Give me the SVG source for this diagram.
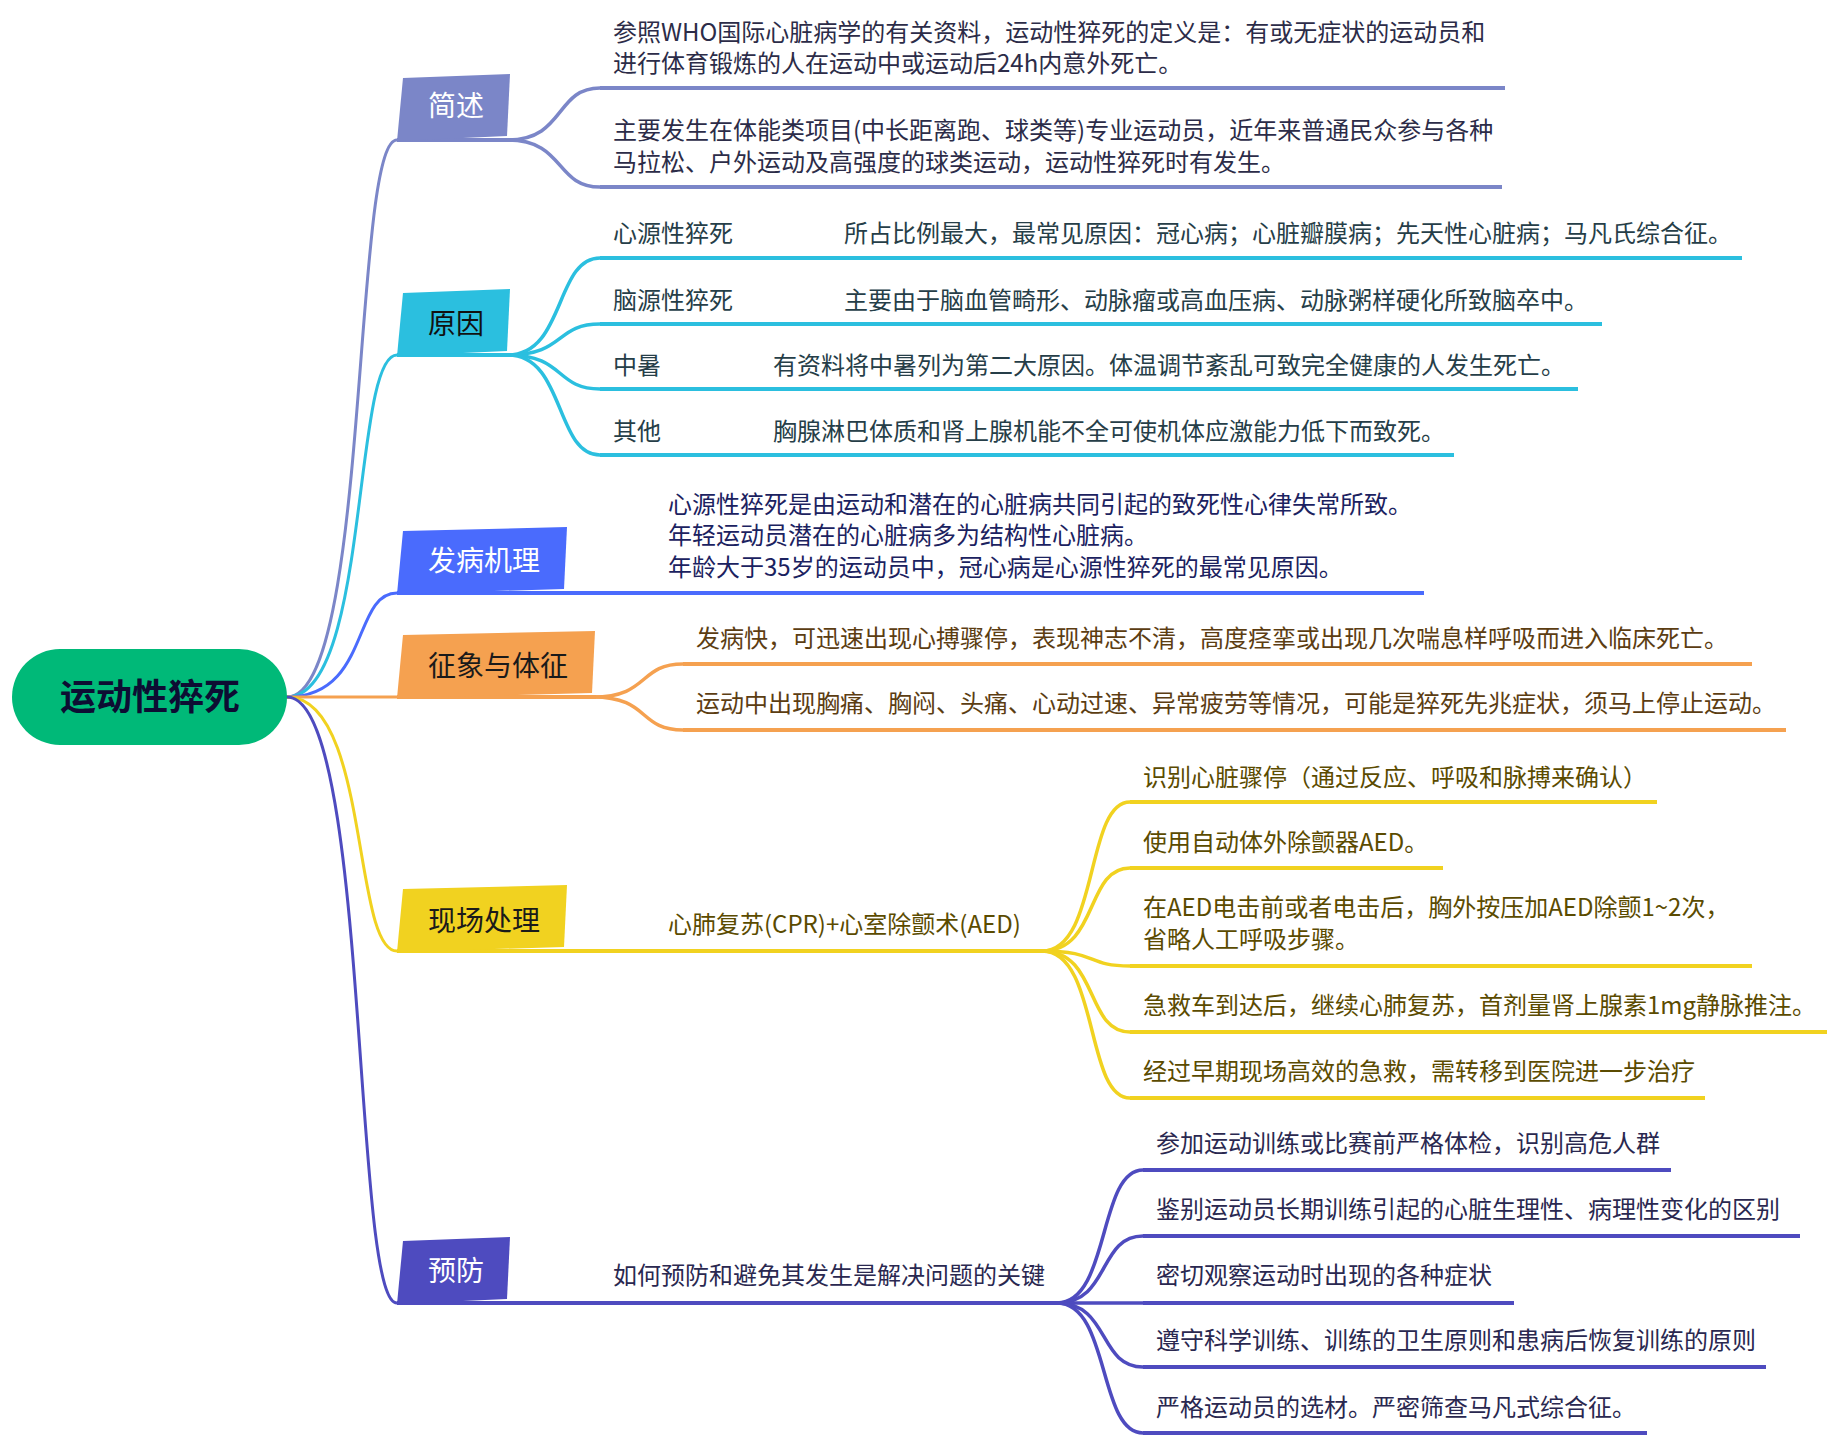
<svg xmlns="http://www.w3.org/2000/svg" width="1848" height="1446" viewBox="0 0 1848 1446">
<style>
text{font-family:"Noto Sans CJK SC","Noto Sans",sans-serif;}
.t{font-size:24px;}
.b{font-size:28px;}
.c{fill:none;stroke-linecap:round;}
.r{stroke-width:3;}
.f{stroke-width:3.5;}
.u{fill:none;stroke-width:4;}
.p1{stroke:#7b86c8;} .p2{stroke:#2bbfdf;} .p3{stroke:#4a6bfd;} .p4{stroke:#f5a150;} .p5{stroke:#f1d220;} .p6{stroke:#4e4bbf;}
.tx1{fill:#2c2c48;} .tx2{fill:#263e48;} .tx3{fill:#1b2260;} .tx4{fill:#5c3d12;} .tx5{fill:#5b4b00;} .tx6{fill:#2a2850;}
</style>
<rect width="1848" height="1446" fill="#ffffff"/>
<g id="connectors">
  <path class="c r p1" d="M287,697 C370,697 352,140 397,140"/>
  <path class="c r p2" d="M287,697 C370,697 352,355 397,355"/>
  <path class="c r p3" d="M287,697 C370,697 352,593 397,593"/>
  <path class="c r p4" d="M287,697 L397,697"/>
  <path class="c r p5" d="M287,697 C370,697 352,951 397,951"/>
  <path class="c r p6" d="M287,697 C370,697 352,1303 397,1303"/>
  <path class="c f p1" d="M508,140 C565,140 555,88 600,88"/>
  <path class="c f p1" d="M508,140 C565,140 555,187 600,187"/>
  <path class="c f p2" d="M508,355 C565,355 555,258 600,258"/>
  <path class="c f p2" d="M508,355 C565,355 555,324 600,324"/>
  <path class="c f p2" d="M508,355 C565,355 555,389 600,389"/>
  <path class="c f p2" d="M508,355 C565,355 555,455 600,455"/>
  <path class="c f p4" d="M593,697 C650,697 638,664 683,664"/>
  <path class="c f p4" d="M593,697 C650,697 638,730 683,730"/>
  <path class="c f p5" d="M1042,951 C1099,951 1085,802 1130,802"/>
  <path class="c f p5" d="M1042,951 C1099,951 1085,868 1130,868"/>
  <path class="c f p5" d="M1042,951 C1099,951 1085,966 1130,966"/>
  <path class="c f p5" d="M1042,951 C1099,951 1085,1032 1130,1032"/>
  <path class="c f p5" d="M1042,951 C1099,951 1085,1098 1130,1098"/>
  <path class="c f p6" d="M1057,1303 C1110,1303 1098,1170 1143,1170"/>
  <path class="c f p6" d="M1057,1303 C1110,1303 1098,1236 1143,1236"/>
  <path class="c f p6" d="M1057,1303 L1143,1303"/>
  <path class="c f p6" d="M1057,1303 C1110,1303 1098,1367 1143,1367"/>
  <path class="c f p6" d="M1057,1303 C1110,1303 1098,1433 1143,1433"/>
</g>
<g id="root">
  <rect x="12" y="649" width="275" height="96" rx="48" fill="#00b978"/>
  <text x="150" y="710" text-anchor="middle" font-size="36" font-weight="bold" fill="#0d0d33">运动性猝死</text>
</g>
<g id="n-jianshu">
  <path class="u p1" d="M397,140 H512"/>
  <polygon points="397,141 403,78 510,74 507,136" fill="#7b86c8"/>
  <text class="b" x="428" y="116" fill="#ffffff">简述</text>
</g>
<g id="n-jianshu-1">
  <path class="u p1" d="M600,88 H1505"/>
  <text class="t tx1" x="613" y="41">参照WHO国际心脏病学的有关资料，运动性猝死的定义是：有或无症状的运动员和<tspan x="613" dy="31">进行体育锻炼的人在运动中或运动后24h内意外死亡。</tspan></text>
</g>
<g id="n-jianshu-2">
  <path class="u p1" d="M600,187 H1502"/>
  <text class="t tx1" x="613" y="139">主要发生在体能类项目(中长距离跑、球类等)专业运动员，近年来普通民众参与各种<tspan x="613" dy="32">马拉松、户外运动及高强度的球类运动，运动性猝死时有发生。</tspan></text>
</g>
<g id="n-yuanyin">
  <path class="u p2" d="M397,355 H512"/>
  <polygon points="397,356 403,293 510,289 507,351" fill="#2bbfdf"/>
  <text class="b" x="428" y="334" fill="#111111">原因</text>
</g>
<g id="n-xinyuan">
  <path class="u p2" d="M600,258 H1742"/>
  <text class="t tx2" x="613" y="242">心源性猝死</text>
  <text class="t tx2" x="844" y="242">所占比例最大，最常见原因：冠心病；心脏瓣膜病；先天性心脏病；马凡氏综合征。</text>
</g>
<g id="n-naoyuan">
  <path class="u p2" d="M600,324 H1602"/>
  <text class="t tx2" x="613" y="309">脑源性猝死</text>
  <text class="t tx2" x="844" y="309">主要由于脑血管畸形、动脉瘤或高血压病、动脉粥样硬化所致脑卒中。</text>
</g>
<g id="n-zhongshu">
  <path class="u p2" d="M600,389 H1578"/>
  <text class="t tx2" x="613" y="374">中暑</text>
  <text class="t tx2" x="773" y="374">有资料将中暑列为第二大原因。体温调节紊乱可致完全健康的人发生死亡。</text>
</g>
<g id="n-qita">
  <path class="u p2" d="M600,455 H1454"/>
  <text class="t tx2" x="613" y="440">其他</text>
  <text class="t tx2" x="773" y="440">胸腺淋巴体质和肾上腺机能不全可使机体应激能力低下而致死。</text>
</g>
<g id="n-fabing">
  <path class="u p3" d="M397,593 H1424"/>
  <polygon points="397,594 403,531 567,527 564,589" fill="#4a6bfd"/>
  <text class="b" x="428" y="571" fill="#ffffff">发病机理</text>
  <text class="t tx3" x="668" y="513">心源性猝死是由运动和潜在的心脏病共同引起的致死性心律失常所致。<tspan x="668" dy="31">年轻运动员潜在的心脏病多为结构性心脏病。</tspan><tspan x="668" dy="32">年龄大于35岁的运动员中，冠心病是心源性猝死的最常见原因。</tspan></text>
</g>
<g id="n-zhengxiang">
  <path class="u p4" d="M397,697 H596"/>
  <polygon points="397,698 403,635 595,631 592,693" fill="#f5a150"/>
  <text class="b" x="428" y="676" fill="#1a1a1a">征象与体征</text>
</g>
<g id="n-zhengxiang-1">
  <path class="u p4" d="M683,664 H1752"/>
  <text class="t tx4" x="696" y="647">发病快，可迅速出现心搏骤停，表现神志不清，高度痉挛或出现几次喘息样呼吸而进入临床死亡。</text>
</g>
<g id="n-zhengxiang-2">
  <path class="u p4" d="M683,730 H1786"/>
  <text class="t tx4" x="696" y="712">运动中出现胸痛、胸闷、头痛、心动过速、异常疲劳等情况，可能是猝死先兆症状，须马上停止运动。</text>
</g>
<g id="n-xianchang">
  <path class="u p5" d="M397,951 H1044"/>
  <polygon points="397,952 403,889 567,885 564,947" fill="#f1d220"/>
  <text class="b" x="428" y="931" fill="#1a1a1a">现场处理</text>
  <text class="t tx5" x="668" y="933">心肺复苏(CPR)+心室除颤术(AED)</text>
</g>
<g id="n-xc-1">
  <path class="u p5" d="M1130,802 H1657"/>
  <text class="t tx5" x="1143" y="786">识别心脏骤停（通过反应、呼吸和脉搏来确认）</text>
</g>
<g id="n-xc-2">
  <path class="u p5" d="M1130,868 H1443"/>
  <text class="t tx5" x="1143" y="851">使用自动体外除颤器AED。</text>
</g>
<g id="n-xc-3">
  <path class="u p5" d="M1130,966 H1752"/>
  <text class="t tx5" x="1143" y="916">在AED电击前或者电击后，胸外按压加AED除颤1~2次，<tspan x="1143" dy="32">省略人工呼吸步骤。</tspan></text>
</g>
<g id="n-xc-4">
  <path class="u p5" d="M1130,1032 H1827"/>
  <text class="t tx5" x="1143" y="1014">急救车到达后，继续心肺复苏，首剂量肾上腺素1mg静脉推注。</text>
</g>
<g id="n-xc-5">
  <path class="u p5" d="M1130,1098 H1705"/>
  <text class="t tx5" x="1143" y="1080">经过早期现场高效的急救，需转移到医院进一步治疗</text>
</g>
<g id="n-yufang">
  <path class="u p6" d="M397,1303 H1060"/>
  <polygon points="397,1304 403,1241 510,1237 507,1299" fill="#4e4bbf"/>
  <text class="b" x="428" y="1281" fill="#ffffff">预防</text>
  <text class="t tx6" x="613" y="1284">如何预防和避免其发生是解决问题的关键</text>
</g>
<g id="n-yf-1">
  <path class="u p6" d="M1143,1170 H1671"/>
  <text class="t tx6" x="1156" y="1152">参加运动训练或比赛前严格体检，识别高危人群</text>
</g>
<g id="n-yf-2">
  <path class="u p6" d="M1143,1236 H1800"/>
  <text class="t tx6" x="1156" y="1218">鉴别运动员长期训练引起的心脏生理性、病理性变化的区别</text>
</g>
<g id="n-yf-3">
  <path class="u p6" d="M1143,1303 H1514"/>
  <text class="t tx6" x="1156" y="1284">密切观察运动时出现的各种症状</text>
</g>
<g id="n-yf-4">
  <path class="u p6" d="M1143,1367 H1766"/>
  <text class="t tx6" x="1156" y="1349">遵守科学训练、训练的卫生原则和患病后恢复训练的原则</text>
</g>
<g id="n-yf-5">
  <path class="u p6" d="M1143,1433 H1647"/>
  <text class="t tx6" x="1156" y="1416">严格运动员的选材。严密筛查马凡式综合征。</text>
</g>
</svg>
